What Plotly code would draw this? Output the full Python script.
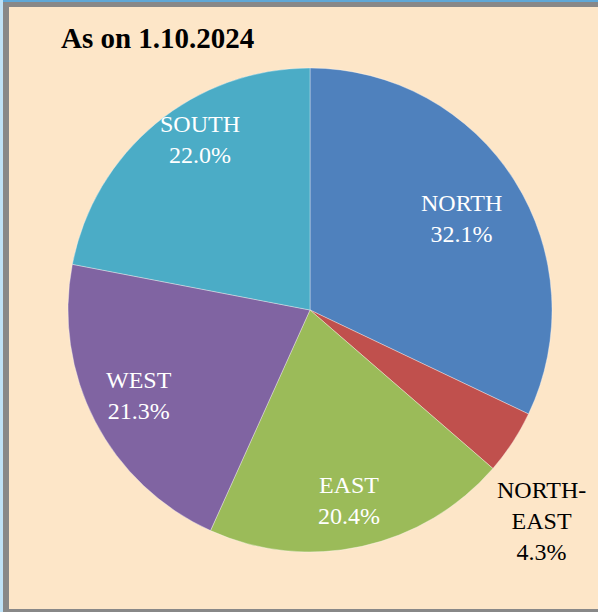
import plotly.graph_objects as go

# Data
regions = ["NORTH", "NORTH-EAST", "EAST", "WEST", "SOUTH"]
shares = [32.1, 4.3, 20.4, 21.3, 22.0]
label_texts = ["NORTH<br>32.1%", "NORTH-<br>EAST<br>4.3%", "EAST<br>20.4%", "WEST<br>21.3%", "SOUTH<br>22.0%"]
title_text = "As on 1.10.2024"

# Styling
colors = ["#4F81BD", "#C0504D", "#9BBB59", "#8064A2", "#4BACC6"]
label_colors = ["white", "black", "white", "white", "white"]
label_pix = [(461, 218), (541, 521), (349, 500), (139, 395), (200, 140)]

W, H = 598, 612
cx, cy, R = 310, 310, 242

fig = go.Figure(go.Pie(
    labels=regions,
    values=shares,
    sort=False,
    direction="clockwise",
    rotation=0,
    marker=dict(colors=colors, line=dict(color="rgba(255,255,255,0.35)", width=1)),
    textinfo="none",
    hoverinfo="label+percent",
    showlegend=False,
    domain=dict(x=[(cx - R) / W, (cx + R) / W], y=[1 - (cy + R) / H, 1 - (cy - R) / H]),
))

annotations = []
for txt, col, (px, py) in zip(label_texts, label_colors, label_pix):
    annotations.append(dict(
        text=txt, x=px / W, y=1 - py / H, xref="paper", yref="paper",
        xanchor="center", yanchor="middle", showarrow=False, align="center",
        font=dict(family="Liberation Serif", size=24, color=col),
    ))
annotations.append(dict(
    text="<b>" + title_text + "</b>", x=157 / W, y=1 - 38 / H, xref="paper", yref="paper",
    xanchor="center", yanchor="middle", showarrow=False,
    font=dict(family="Liberation Serif", size=29, color="black"),
))

def rect(x0, y0, x1, y1, color):
    return dict(type="rect", xref="paper", yref="paper",
                x0=x0 / W, x1=x1 / W, y0=1 - y1 / H, y1=1 - y0 / H,
                fillcolor=color, line=dict(width=0), layer="below")

shapes = [
    rect(0, 0, W, 2, "#5FA8D8"),
    rect(0, 0, 3, H, "#BFE2F7"),
    rect(3, 2, W, 7, "#888888"),
    rect(3, 2, 9, H, "#888888"),
    rect(3, 609, W, H, "#888888"),
]

fig.update_layout(
    width=W, height=H,
    margin=dict(l=0, r=0, t=0, b=0),
    paper_bgcolor="#FDE6C8",
    plot_bgcolor="#FDE6C8",
    annotations=annotations,
    shapes=shapes,
)

fig.write_html("out.html", config={"displayModeBar": False},
               post_script="document.body.style.margin='0';document.body.style.overflow='hidden';")
